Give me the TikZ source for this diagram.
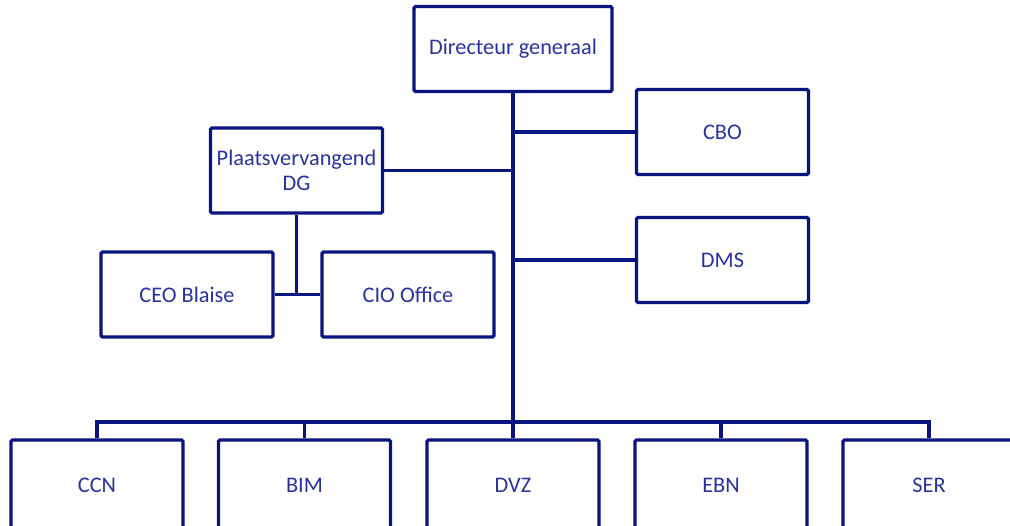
\documentclass[tikz,border=0pt]{standalone}
\usepackage{fontspec}
\setmainfont{Carlito}
\usetikzlibrary{positioning}
\definecolor{navy}{RGB}{8,20,128}
\definecolor{labelblue}{RGB}{40,50,160}
\tikzstyle{unit} = [rectangle, rounded corners=1.5pt, minimum width=172pt, minimum height=85pt, text centered, align=center, draw=navy, line width=3.4pt, text=labelblue, font=\fontsize{22.3}{25}\selectfont]
\tikzstyle{line} = [draw=navy, line width=3.4pt]

\begin{document}
\begin{tikzpicture}[x=1pt, y=-1pt]
	\useasboundingbox (0,0) rectangle (1010,526);
	\clip (0,0) rectangle (1010,526);
	\node (dg) [unit, minimum width=198pt] at (513,49) {Directeur generaal};
	\node (cbo) [unit] at (722.5,132) {CBO};
	\node (dms) [unit] at (722.5,260) {DMS};
	\node (pdg) [unit] at (296.5,170.5) {Plaatsvervangend\\DG};
	\node (ceo) [unit] at (187,294.5) {CEO Blaise};
	\node (cio) [unit] at (408,294.5) {CIO Office};
	\coordinate (bar) at (513,422);
	% bottom row
	\tikzstyle{low} = [unit, minimum height=90pt]
	\node (ccn) [low] at (97,485) {CCN};
	\node (bim) [low] at (304.5,485) {BIM};
	\node (dvz) [low] at (513,485) {DVZ};
	\node (ebn) [low] at (721,485) {EBN};
	\node (ser) [low] at (929,485) {SER};

	\draw [line] (dg) -- (dvz);
	\draw [line] (cbo) -- (cbo -| dg);
	\draw [line] (dms) -- (dms -| dg);
	\draw [line] (pdg) -- (pdg -| dg);
	\draw [line] (pdg) -- (pdg |- ceo);
	\draw [line] (ceo) -- (cio);
	\draw [line] (ccn) |- (bar) -| (ser);
	\draw [line] (bim) -- (bim |- bar);
	\draw [line] (ebn) -- (ebn |- bar);
\end{tikzpicture}
\end{document}
